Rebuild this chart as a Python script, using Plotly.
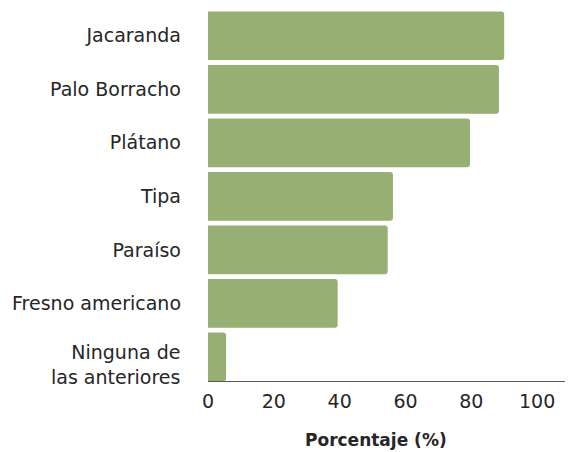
import plotly.graph_objects as go

especies = ['Jacaranda', 'Palo Borracho', 'Plátano', 'Tipa', 'Paraíso',
            'Fresno americano', 'Ninguna de<br>las anteriores']
porcentaje = [90, 88.4, 79.6, 56.2, 54.6, 39.4, 5.5]
ticks_x = [0, 20, 40, 60, 80, 100]

BAR_COLOR = '#97AF73'
TXT = '#262626'

# the page keeps its 8px body margin, so the figure is drawn 8px lower/right
fig = go.Figure(go.Bar(
    x=porcentaje, y=especies, orientation='h',
    marker=dict(color=BAR_COLOR, line=dict(width=0), cornerradius=3),
))

fig.update_layout(
    width=565, height=444,
    margin=dict(l=200, r=1, t=1, b=71),
    plot_bgcolor='white', paper_bgcolor='white',
    font=dict(family='DejaVu Sans', size=19, color=TXT),
    bargap=0.09,
    showlegend=False,
)
fig.update_xaxes(
    range=[0, 110.6], tickvals=ticks_x, showgrid=False, zeroline=False,
    showline=True, linecolor='#555555', linewidth=1, automargin=False,
    ticks='outside', ticklen=3, tickcolor='rgba(0,0,0,0)',
    tickfont=dict(size=19, color=TXT),
)
# the two-line label sits a little lower than its bar, so it is an annotation
fig.update_yaxes(
    range=[6.45, -0.5], showgrid=False, zeroline=False, showline=False,
    ticks='', ticklabelstandoff=26, automargin=False,
    tickvals=especies, ticktext=especies[:-1] + [''],
    tickfont=dict(size=19, color=TXT),
)
fig.add_annotation(
    text=especies[-1], x=0, xref='paper', y=especies[-1], yref='y',
    xanchor='right', xshift=-26, yshift=-8, align='right',
    showarrow=False, font=dict(size=19, color=TXT),
)
fig.add_annotation(
    text='<b>Porcentaje (%)</b>', x=51, xref='x', y=-0.158, yref='paper',
    showarrow=False, font=dict(size=17, color=TXT), yanchor='middle',
)

fig.write_html("out.html")
